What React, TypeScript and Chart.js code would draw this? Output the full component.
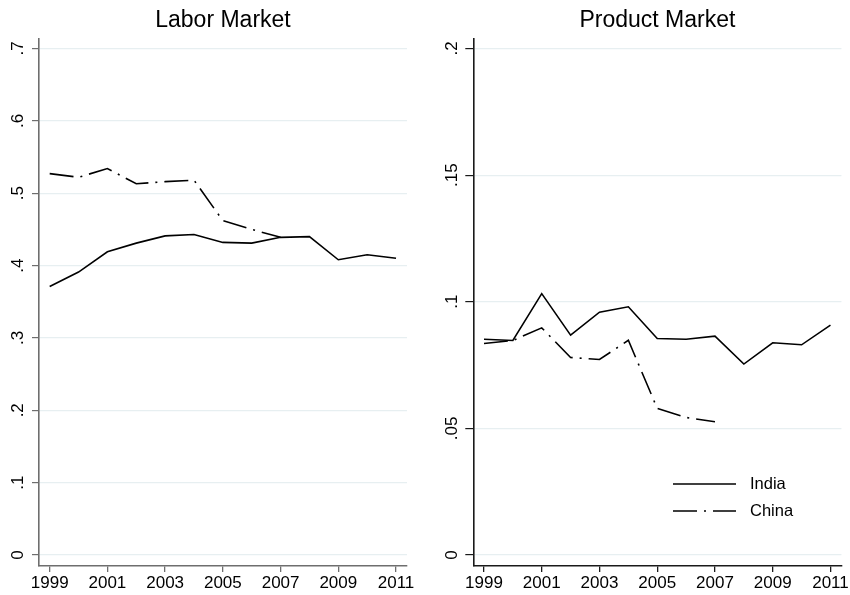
import React, { useEffect, useRef } from "react";
import { Chart, registerables } from "chart.js";

Chart.register(...registerables);

const YEARS = [1999, 2000, 2001, 2002, 2003, 2004, 2005, 2006, 2007, 2008, 2009, 2010, 2011];
const X_TICKS = [1999, 2001, 2003, 2005, 2007, 2009, 2011];

const LABOR_INDIA = [0.371, 0.391, 0.419, 0.431, 0.441, 0.443, 0.432, 0.431, 0.439, 0.44, 0.408, 0.415, 0.41];
const LABOR_CHINA = [0.527, 0.522, 0.534, 0.513, 0.516, 0.518, 0.462, 0.45, 0.439];
const LABOR_Y_TICKS = [0, 0.1, 0.2, 0.3, 0.4, 0.5, 0.6, 0.7];

const PRODUCT_INDIA = [0.0852, 0.0847, 0.1032, 0.0868, 0.0959, 0.098, 0.0855, 0.0852, 0.0864, 0.0754, 0.0838, 0.083, 0.0908];
const PRODUCT_CHINA = [0.0835, 0.0847, 0.0897, 0.078, 0.0772, 0.0848, 0.0579, 0.0543, 0.0526];
const PRODUCT_Y_TICKS = [0, 0.05, 0.1, 0.15, 0.2];

const SERIES_NAMES = ["India", "China"];
const CHINA_DASH = [24, 7, 2, 7];

const FONT = "'Liberation Sans', Arial, Helvetica, sans-serif";

function toPoints(vals: number[]) {
  return vals.map((v, i) => ({ x: YEARS[i], y: v }));
}

function fmtY(v: number) {
  if (v === 0) return "0";
  return String(v).replace(/^0/, "");
}

const legendPlugin = {
  id: "stataLegend",
  afterDraw(chart: any) {
    const opts = chart.options.plugins.stataLegend;
    if (!opts || !opts.show) return;
    const ctx = chart.ctx;
    ctx.save();
    chart.data.datasets.forEach((ds: any, i: number) => {
      const y = opts.y + i * opts.rowGap;
      ctx.beginPath();
      ctx.setLineDash(ds.borderDash || []);
      ctx.strokeStyle = ds.borderColor;
      ctx.lineWidth = ds.borderWidth;
      ctx.moveTo(opts.x, y);
      ctx.lineTo(opts.x + opts.lineLen, y);
      ctx.stroke();
      ctx.setLineDash([]);
      ctx.fillStyle = "#000";
      ctx.font = `16.5px ${FONT}`;
      ctx.textBaseline = "middle";
      ctx.textAlign = "left";
      ctx.fillText(ds.label, opts.x + opts.lineLen + 14, y);
    });
    ctx.restore();
  },
};

type PanelProps = {
  title: string;
  india: number[];
  china: number[];
  yTicks: number[];
  yMin: number;
  yMax: number;
  yWidth: number;
  padRight: number;
  axisColor: string;
  labelPad: number;
  yTickLen: number;
  legend: boolean;
  left: number;
};

function Panel(p: PanelProps) {
  const ref = useRef<HTMLCanvasElement | null>(null);
  useEffect(() => {
    if (!ref.current) return;
    const chart = new Chart(ref.current, {
      type: "line",
      data: {
        datasets: [
          {
            label: SERIES_NAMES[0],
            data: toPoints(p.india),
            borderColor: "#000",
            borderWidth: 1.6,
            pointRadius: 0,
            tension: 0,
            fill: false,
          },
          {
            label: SERIES_NAMES[1],
            data: toPoints(p.china),
            borderColor: "#000",
            borderWidth: 1.6,
            borderDash: CHINA_DASH,
            pointRadius: 0,
            tension: 0,
            fill: false,
          },
        ],
      },
      options: {
        animation: false,
        responsive: false,
        devicePixelRatio: 1,
        layout: { padding: { left: 0, right: p.padRight, top: 0, bottom: 0 } },
        plugins: {
          legend: { display: false },
          tooltip: { enabled: false },
          title: {
            display: true,
            text: p.title,
            fullSize: false,
            color: "#000",
            font: { size: 23, family: FONT, weight: "normal", lineHeight: 1.2 },
            padding: { top: 7.2, bottom: 4.2 },
          },
          stataLegend: { show: p.legend, x: 248, y: 484, rowGap: 27, lineLen: 63 },
        } as any,
        scales: {
          x: {
            type: "linear",
            min: 1998.63,
            max: 2011.38,
            afterBuildTicks: (s: any) => {
              s.ticks = X_TICKS.map((v) => ({ value: v }));
            },
            afterFit: (s: any) => {
              s.height = 29;
            },
            ticks: {
              color: "#000",
              font: { size: 17, family: FONT },
              padding: 1,
              maxRotation: 0,
              minRotation: 0,
              autoSkip: false,
              callback: (v: any) => String(v),
            },
            grid: {
              drawOnChartArea: false,
              drawTicks: true,
              tickLength: 6,
              tickColor: p.axisColor,
              lineWidth: 1.3,
            },
            border: { color: p.axisColor, width: 1.6 },
          },
          y: {
            type: "linear",
            min: p.yMin,
            max: p.yMax,
            afterBuildTicks: (s: any) => {
              s.ticks = p.yTicks.map((v) => ({ value: v }));
            },
            afterFit: (s: any) => {
              s.width = p.yWidth;
            },
            ticks: {
              color: "#000",
              font: { size: 17, family: FONT },
              minRotation: 90,
              maxRotation: 90,
              crossAlign: "center",
              padding: p.labelPad,
              autoSkip: false,
              callback: (v: any) => fmtY(Number(v)),
            },
            grid: {
              color: "#e7eff1",
              lineWidth: 1.2,
              drawTicks: true,
              tickLength: p.yTickLen,
              tickColor: p.axisColor,
            },
            border: { color: p.axisColor, width: 1.6 },
          },
        },
      },
      plugins: [legendPlugin],
    } as any);
    return () => chart.destroy();
  }, []);
  return (
    <canvas
      ref={ref}
      width={425}
      height={595}
      style={{ position: "absolute", left: p.left, top: 0, width: 425, height: 595 }}
    />
  );
}

export default function App() {
  return (
    <div style={{ position: "fixed", left: 0, top: 0, width: 850, height: 595, background: "#fff" }}>
      <Panel
        title="Labor Market"
        india={LABOR_INDIA}
        china={LABOR_CHINA}
        yTicks={LABOR_Y_TICKS}
        yMin={-0.0152}
        yMax={0.7131}
        yWidth={39}
        padRight={18}
        axisColor="#6e6e6e"
        labelPad={6.9}
        yTickLen={7}
        legend={false}
        left={0}
      />
      <Panel
        title="Product Market"
        india={PRODUCT_INDIA}
        china={PRODUCT_CHINA}
        yTicks={PRODUCT_Y_TICKS}
        yMin={-0.00434}
        yMax={0.20375}
        yWidth={48.3}
        padRight={8}
        axisColor="#1a1a1a"
        labelPad={1}
        yTickLen={8}
        legend={true}
        left={425}
      />
    </div>
  );
}
